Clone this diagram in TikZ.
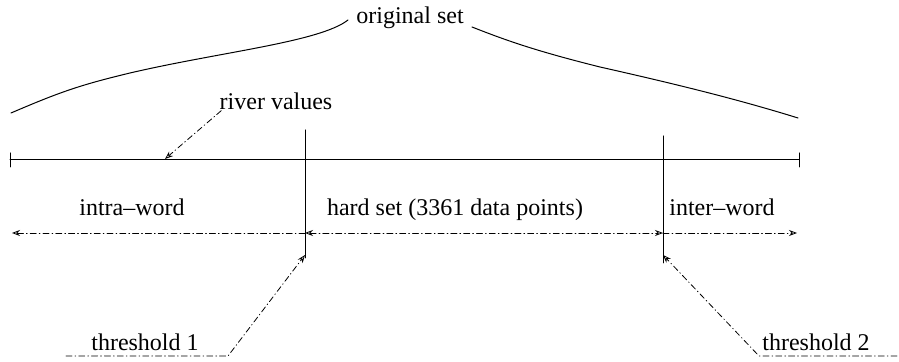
\documentclass[tikz,border=0pt]{standalone}
\usepackage{fontspec}
\setmainfont{Liberation Serif}
\usetikzlibrary{arrows.meta}
\tikzset{
  dashdot/.style={dash pattern=on 3pt off 1.5pt on 0.4pt off 1.5pt},
  opentip/.style={-{Stealth[open,length=4pt,width=3pt]}},
  twotips/.style={{Stealth[open,length=4pt,width=3pt]}-{Stealth[open,length=4pt,width=3pt]}},
  lbl/.style={inner sep=0pt,anchor=base}
}
\begin{document}
\begin{tikzpicture}[x=0.5pt,y=-0.5pt,line cap=round,line join=round,font=\fontsize{12}{14}\selectfont]
  \useasboundingbox(0,0)rectangle(899,362);
  % labels
  \node[lbl](orig)at(410,24){original set};
  \node[lbl](river)at(276,110){river values};
  \node[lbl](intra)at(132,216){intra--word};
  \node[lbl](hard)at(455,216){hard set (3361 data points)};
  \node[lbl](inter)at(722,216){inter--word};
  \node[lbl](thone)at(145,351){threshold 1};
  \node[lbl](thtwo)at(816,351){threshold 2};
  % points on the scale
  \coordinate(lend)at(10,160);\coordinate(rend)at(799,160);
  \coordinate(tonetop)at(305,130);\coordinate(tonebot)at(305,258);
  \coordinate(ttwotop)at(663,136);\coordinate(ttwobot)at(663,263);
  \coordinate(aleft)at(12,233);\coordinate(aone)at(305,233);
  \coordinate(atwo)at(663,233);\coordinate(aright)at(797,233);
  \coordinate(rivertip)at(165,159);
  \coordinate(uonea)at(66,356);\coordinate(uoneb)at(228,356);
  \coordinate(utwoa)at(897,356);\coordinate(utwob)at(759,356);
  \coordinate(tonetip)at(305,255);\coordinate(ttwotip)at(663,255);
  % brace of the original set
  \draw[line width=0.5pt](11,113)..controls(60,92)and(80,85)..(130,73)..controls(220,52)and(320,42)..(348,20);
  \draw[line width=0.5pt](472,27)..controls(510,42)and(540,52)..(600,67)..controls(680,85)and(740,100)..(798,118);
  % scale and thresholds
  \draw[line width=0.5pt](lend)--(rend);
  \draw[line width=0.5pt](10,153)--(10,167)(799,153)--(799,167);
  \draw[line width=0.5pt](tonetop)--(tonebot)(ttwotop)--(ttwobot);
  % ranges
  \draw[dashdot,opentip](aone)--(aleft);
  \draw[dashdot,twotips](aone)--(atwo);
  \draw[dashdot,opentip](atwo)--(aright);
  % pointers
  \draw[dashdot,opentip]([xshift=1pt]river.south west)--(rivertip);
  \draw[dashdot,opentip](uonea)--(uoneb)--(tonetip);
  \draw[dashdot,opentip](utwoa)--(utwob)--(ttwotip);
\end{tikzpicture}
\end{document}
